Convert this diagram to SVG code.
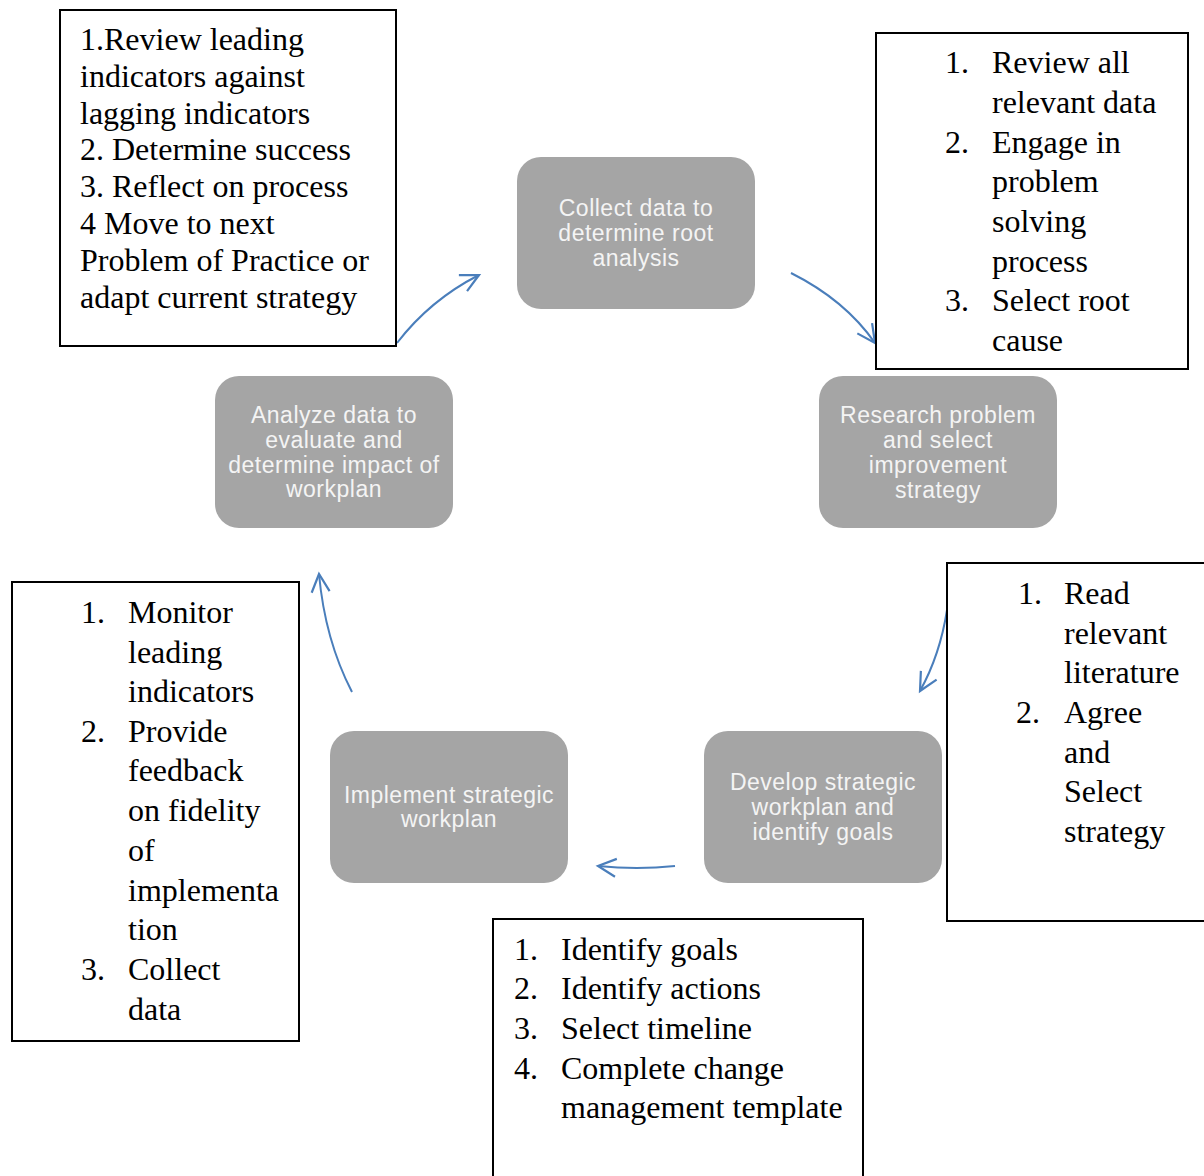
<svg xmlns="http://www.w3.org/2000/svg" width="1204" height="1176" viewBox="0 0 1204 1176">
<style>
.node rect{fill:#a5a5a5;}
.node text{fill:#f4f4f4;font-family:"Liberation Sans",Arial,sans-serif;font-size:23px;letter-spacing:0.5px;text-anchor:middle;}
.box rect{fill:#fff;stroke:#000;stroke-width:2;}
.box text{fill:#000;font-family:"Liberation Serif","Times New Roman",serif;font-size:32px;}
.conn path{fill:none;stroke:#4a7ebb;stroke-width:2;}
</style>
<defs>
<marker id="ah" markerUnits="userSpaceOnUse" markerWidth="24" markerHeight="24" refX="20" refY="10" orient="auto" viewBox="0 0 24 20">
<path d="M2,1 L20,10 L2,19" fill="none" stroke="#4a7ebb" stroke-width="2.2"/>
</marker>
</defs>
<rect width="1204" height="1176" fill="#fff"/>
<g class="conn" id="connectors">
<path d="M397,343 Q430,300 479,275" marker-end="url(#ah)"/>
<path d="M791,273 Q845,300 875,343" marker-end="url(#ah)"/>
<path d="M947,610 Q940,655 920,691" marker-end="url(#ah)"/>
<path d="M675,866 Q637,870 598,866" marker-end="url(#ah)"/>
<path d="M352,692 Q325,640 319,574" marker-end="url(#ah)"/>
</g>
<g class="node" id="n-collect">
<rect x="517" y="157" width="238" height="152" rx="24"/>
<text x="636" y="216">Collect data to</text>
<text x="636" y="241">determine root</text>
<text x="636" y="266">analysis</text>
</g>
<g class="node" id="n-research">
<rect x="819" y="376" width="238" height="152" rx="24"/>
<text x="938" y="423">Research problem</text>
<text x="938" y="448">and select</text>
<text x="938" y="473">improvement</text>
<text x="938" y="498">strategy</text>
</g>
<g class="node" id="n-develop">
<rect x="704" y="731" width="238" height="152" rx="24"/>
<text x="823" y="790">Develop strategic</text>
<text x="823" y="815">workplan and</text>
<text x="823" y="840">identify goals</text>
</g>
<g class="node" id="n-implement">
<rect x="330" y="731" width="238" height="152" rx="24"/>
<text x="449" y="803">Implement strategic</text>
<text x="449" y="827">workplan</text>
</g>
<g class="node" id="n-analyze">
<rect x="215" y="376" width="238" height="152" rx="24"/>
<text x="334" y="423">Analyze data to</text>
<text x="334" y="448">evaluate and</text>
<text x="334" y="473">determine impact of</text>
<text x="334" y="497">workplan</text>
</g>
<g class="box" id="b-review">
<rect x="60" y="10" width="336" height="336"/>
<text x="80" y="50">1.Review leading</text>
<text x="80" y="87">indicators against</text>
<text x="80" y="124">lagging indicators</text>
<text x="80" y="160">2. Determine success</text>
<text x="80" y="197">3. Reflect on process</text>
<text x="80" y="234">4 Move to next</text>
<text x="80" y="271">Problem of Practice or</text>
<text x="80" y="308">adapt current strategy</text>
</g>
<g class="box" id="b-data">
<rect x="876" y="33" width="312" height="336"/>
<text x="945" y="73">1.</text><text x="992" y="73">Review all</text>
<text x="992" y="113">relevant data</text>
<text x="945" y="153">2.</text><text x="992" y="153">Engage in</text>
<text x="992" y="192">problem</text>
<text x="992" y="232">solving</text>
<text x="992" y="272">process</text>
<text x="945" y="311">3.</text><text x="992" y="311">Select root</text>
<text x="992" y="351">cause</text>
</g>
<g class="box" id="b-literature">
<rect x="947" y="563" width="270" height="358"/>
<text x="1018" y="604">1.</text><text x="1064" y="604">Read</text>
<text x="1064" y="644">relevant</text>
<text x="1064" y="683">literature</text>
<text x="1016" y="723">2.</text><text x="1064" y="723">Agree</text>
<text x="1064" y="763">and</text>
<text x="1064" y="802">Select</text>
<text x="1064" y="842">strategy</text>
</g>
<g class="box" id="b-goals">
<rect x="493" y="919" width="370" height="270"/>
<text x="514" y="960">1.</text><text x="561" y="960">Identify goals</text>
<text x="514" y="999">2.</text><text x="561" y="999">Identify actions</text>
<text x="514" y="1039">3.</text><text x="561" y="1039">Select timeline</text>
<text x="514" y="1079">4.</text><text x="561" y="1079">Complete change</text>
<text x="561" y="1118">management template</text>
</g>
<g class="box" id="b-monitor">
<rect x="12" y="582" width="287" height="459"/>
<text x="81" y="623">1.</text><text x="128" y="623">Monitor</text>
<text x="128" y="663">leading</text>
<text x="128" y="702">indicators</text>
<text x="81" y="742">2.</text><text x="128" y="742">Provide</text>
<text x="128" y="781">feedback</text>
<text x="128" y="821">on fidelity</text>
<text x="128" y="861">of</text>
<text x="128" y="901">implementa</text>
<text x="128" y="940">tion</text>
<text x="81" y="980">3.</text><text x="128" y="980">Collect</text>
<text x="128" y="1020">data</text>
</g>
</svg>
